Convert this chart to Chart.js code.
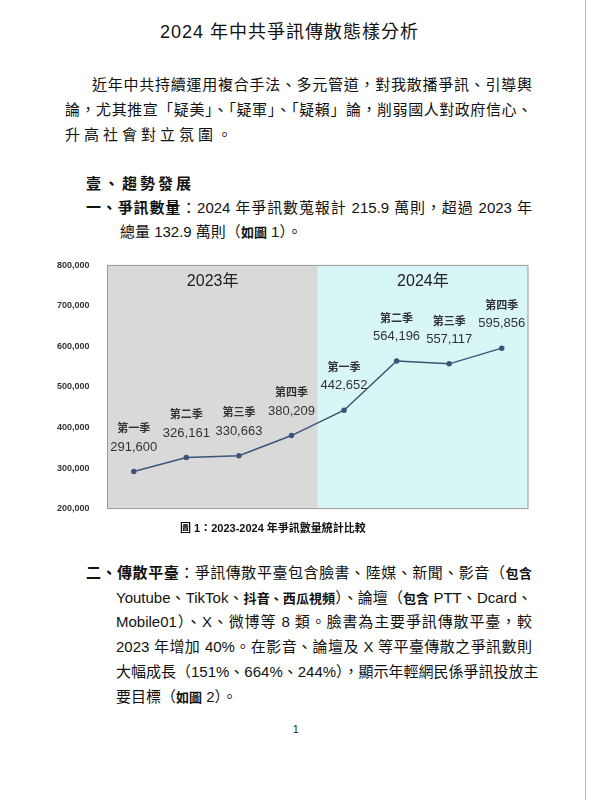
<!DOCTYPE html>
<html><head><meta charset="utf-8">
<script src="https://cdn.jsdelivr.net/npm/chart.js@4"></script>
<style>
body{margin:0;background:#fff;font-family:"Liberation Sans","Noto Sans CJK TC",sans-serif;color:#111;}
#page{position:relative;width:598px;height:800px;overflow:hidden;}
.l{position:absolute;font-size:15px;line-height:20px;white-space:nowrap;}
.j{text-align:justify;text-align-last:justify;}
b{font-weight:bold;}
#edge{position:absolute;left:585px;top:0;width:1px;height:800px;background:#bbb;}
#box{position:absolute;left:40px;top:250px;width:500px;height:274px;}
</style></head><body>
<div id="page">
<div class="l" style="left:160px;top:22px;font-size:18px;letter-spacing:1px;">2024 年中共爭訊傳散態樣分析</div>
<div class="l j" style="left:92px;top:75px;width:440px;">近年中共持續運用複合手法、多元管道，對我散播爭訊、引導輿</div>
<div class="l j" style="left:65px;top:100px;width:467px;">論，尤其推宣「疑美」、「疑軍」、「疑賴」論，削弱國人對政府信心、</div>
<div class="l" style="left:65px;top:125px;letter-spacing:4px;">升高社會對立氛圍。</div>
<div class="l" style="left:86px;top:174px;letter-spacing:3px;"><b>壹、趨勢發展</b></div>
<div class="l j" style="left:86px;top:198px;width:446px;"><b>一、爭訊數量</b>：2024 年爭訊數蒐報計 215.9 萬則，超過 2023 年</div>
<div class="l" style="left:120px;top:222px;">總量 132.9 萬則（<b style="font-size:13px">如圖</b> 1）。</div>
<div id="box"><canvas id="myChart"></canvas></div>
<div class="l" style="left:180px;top:518px;font-size:11px;"><b>圖 1：2023-2024 年爭訊數量統計比較</b></div>
<div class="l j" style="left:86px;top:563px;width:446px;"><b>二、傳散平臺</b>：爭訊傳散平臺包含臉書、陸媒、新聞、影音（<b style="font-size:13px">包含</b></div>
<div class="l j" style="left:116px;top:588px;width:416px;">Youtube、TikTok、<b style="font-size:13px">抖音、西瓜視頻</b>）、論壇（<b style="font-size:13px">包含</b> PTT、Dcard、</div>
<div class="l j" style="left:116px;top:612px;width:416px;">Mobile01）、X、微博等 8 類。臉書為主要爭訊傳散平臺，較</div>
<div class="l j" style="left:116px;top:637px;width:416px;">2023 年增加 40%。在影音、論壇及 X 等平臺傳散之爭訊數則</div>
<div class="l j" style="left:116px;top:662px;width:416px;">大幅成長（151%、664%、244%），顯示年輕網民係爭訊投放主</div>
<div class="l" style="left:116px;top:687px;">要目標（<b style="font-size:13px">如圖</b> 2）。</div>
<div class="l" style="left:293px;top:720px;font-size:10px;">1</div>
<div id="edge"></div>
</div>
<script>
const quarters = ['第一季', '第二季', '第三季', '第四季', '第一季', '第二季', '第三季', '第四季'];
const years = ['2023年', '2024年'];
const counts = [291600, 326161, 330663, 380209, 442652, 564196, 557117, 595856];
const yTicks = [200000, 300000, 400000, 500000, 600000, 700000, 800000];

const panels = {
  id: 'panels',
  beforeDatasetsDraw(chart) {
    const {ctx, chartArea: a, scales: {x}} = chart;
    const mid = (x.getPixelForValue(3) + x.getPixelForValue(4)) / 2;
    ctx.save();
    ctx.fillStyle = '#d9d9d9';
    ctx.fillRect(a.left, a.top, mid - a.left, a.bottom - a.top);
    ctx.fillStyle = '#d8f6f6';
    ctx.fillRect(mid, a.top, a.right - mid, a.bottom - a.top);
    ctx.strokeStyle = '#999';
    ctx.lineWidth = 1;
    ctx.strokeRect(a.left, a.top, a.right - a.left, a.bottom - a.top);
    ctx.fillStyle = '#222';
    ctx.font = '16px "Liberation Sans","Noto Sans CJK TC"';
    ctx.textAlign = 'center';
    ctx.textBaseline = 'top';
    ctx.fillText(years[0], (a.left + mid) / 2, a.top + 8);
    ctx.fillText(years[1], (mid + a.right) / 2, a.top + 8);
    ctx.restore();
  },
  afterDatasetsDraw(chart) {
    const {ctx} = chart;
    const meta = chart.getDatasetMeta(0);
    ctx.save();
    ctx.textAlign = 'center';
    ctx.textBaseline = 'bottom';
    ctx.fillStyle = '#333';
    meta.data.forEach((p, i) => {
      ctx.font = '13px "Liberation Sans"';
      ctx.fillText(counts[i].toLocaleString('en-US'), p.x, p.y - 18);
      ctx.font = 'bold 11px "Noto Sans CJK TC"';
      ctx.fillText(quarters[i], p.x, p.y - 38);
    });
    ctx.restore();
  }
};

new Chart(document.getElementById('myChart'), {
  type: 'line',
  data: {
    labels: quarters,
    datasets: [{
      data: counts,
      borderColor: '#3b5478',
      backgroundColor: '#3b5478',
      borderWidth: 1.5,
      radius: 2,
      tension: 0
    }]
  },
  options: {
    responsive: true,
    maintainAspectRatio: false,
    animation: false,
    layout: {padding: {left: 7, right: 12, top: 8}},
    plugins: {legend: {display: false}, tooltip: {enabled: false}},
    scales: {
      x: {display: false, offset: true},
      y: {
        min: 200000, max: 800000,
        afterBuildTicks: (s) => { s.ticks = yTicks.map(v => ({value: v})); },
        grid: {display: false},
        border: {display: false},
        ticks: {color: '#333', font: {size: 9, weight: 'bold'}, padding: 10,
          callback: (v) => v.toLocaleString('en-US')}
      }
    }
  },
  plugins: [panels]
});
</script>
</body></html>
